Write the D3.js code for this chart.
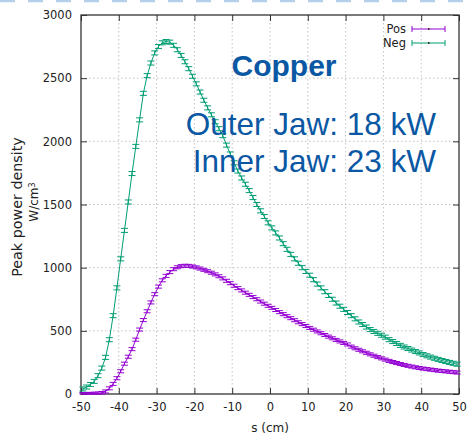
<!DOCTYPE html>
<html>
<head>
<meta charset="utf-8">
<script src="https://cdn.jsdelivr.net/npm/d3@7"></script>
<style>
  body { margin: 0; background: #fff; }
  text { font-family: "DejaVu Sans", sans-serif; fill: #222; }
  .grid line { stroke: #c4c4c4; stroke-dasharray: 1.5,2.5; }
  .axis line { stroke: #333; }
  .axis text { font-size: 11.5px; fill: #222; }
  .note { font-family: "Liberation Sans", Arial, sans-serif; fill: #0a58a4; }
</style>
</head>
<body>
<div class="chart"></div>
<script>
// chart data (bin centres every 1 cm)
var sValues = d3.range(-49.5, 50, 1);

var negValues = [
  40, 55, 75, 100, 145, 205, 290, 430, 620, 840,
  1070, 1295, 1520, 1745, 1960, 2170, 2380, 2520, 2620, 2700,
  2750, 2780, 2790, 2785, 2760, 2725, 2680, 2630, 2575, 2515,
  2455, 2390, 2325, 2265, 2210, 2155, 2100, 2045, 1970, 1900,
  1830, 1765, 1710, 1660, 1610, 1555, 1500, 1450, 1405, 1355,
  1315, 1275, 1235, 1190, 1145, 1105, 1070, 1035, 1000, 970,
  940, 905, 870, 840, 810, 780, 750, 720, 695, 670,
  645, 620, 595, 570, 550, 530, 510, 495, 480, 465,
  450, 430, 415, 400, 385, 372, 360, 348, 336, 325,
  312, 302, 292, 283, 274, 265, 257, 250, 243, 236
];

var posValues = [
  0, 0, 1, 2, 4, 8, 20, 45, 80, 125,
  180, 240, 295, 355, 430, 510, 585, 655, 725, 790,
  850, 900, 935, 965, 988, 1003, 1012, 1015, 1014, 1009,
  1002, 993, 983, 972, 960, 947, 932, 915, 896, 877,
  857, 838, 820, 802, 785, 767, 750, 732, 715, 698,
  682, 665, 648, 632, 616, 600, 584, 568, 553, 538,
  523, 509, 495, 481, 467, 454, 441, 428, 416, 404,
  392, 375, 362, 350, 338, 326, 314, 303, 292, 282,
  272, 262, 253, 245, 237, 230, 223, 217, 211, 206,
  201, 197, 193, 189, 185, 182, 179, 176, 173, 170
];

// error bar half size
var negErr = 16;
var posErr = 12;

var xTicks = [-50, -40, -30, -20, -10, 0, 10, 20, 30, 40, 50];
var yTicks = [0, 500, 1000, 1500, 2000, 2500, 3000];

var seriesNames = ["Pos", "Neg"];
var seriesColors = ["#9400d3", "#009e73"];

var noteLines = ["Outer Jaw: 18 kW", "Inner Jaw: 23 kW"];

// create canvas for chart
var svgWidth = 467;
var svgHeight = 439;

var margin = { top: 15, right: 8, bottom: 45, left: 81 };

var width = svgWidth - margin.left - margin.right;
var height = svgHeight - margin.top - margin.bottom;

var svg = d3
    .select(".chart")
    .append("svg")
    .attr("width", svgWidth)
    .attr("height", svgHeight);

// light blue dashed strip at the very top (slide artefact)
svg.append("line")
    .attr("x1", 0)
    .attr("x2", svgWidth)
    .attr("y1", 1)
    .attr("y2", 1)
    .attr("stroke", "#b4cfea")
    .attr("stroke-width", 2.5)
    .attr("stroke-dasharray", "15,13");

var chart = svg.append("g")
    .attr("transform", "translate(" + margin.left + "," + margin.top + ")");

// scales
var xLinearScale = d3.scaleLinear().domain([-50, 50]).range([0, width]);
var yLinearScale = d3.scaleLinear().domain([0, 3000]).range([height, 0]);

// plain labels: ascii minus, no thousands separator
function plainLabel(d) { return String(d); }

// dotted grid
chart.append("g")
    .attr("class", "grid")
    .selectAll("line.gx")
    .data(xTicks.slice(1, -1))
    .enter()
    .append("line")
    .attr("x1", function(d) { return xLinearScale(d); })
    .attr("x2", function(d) { return xLinearScale(d); })
    .attr("y1", 0)
    .attr("y2", height);

chart.append("g")
    .attr("class", "grid")
    .selectAll("line.gy")
    .data(yTicks.slice(1, -1))
    .enter()
    .append("line")
    .attr("x1", 0)
    .attr("x2", width)
    .attr("y1", function(d) { return yLinearScale(d); })
    .attr("y2", function(d) { return yLinearScale(d); });

// axes, ticks point inward like gnuplot
var bottomAxis = d3.axisBottom(xLinearScale).tickValues(xTicks).tickSize(-6).tickPadding(9).tickFormat(plainLabel);
var leftAxis = d3.axisLeft(yLinearScale).tickValues(yTicks).tickSize(-6).tickPadding(9).tickFormat(plainLabel);
var topAxis = d3.axisTop(xLinearScale).tickValues(xTicks).tickSize(-6).tickFormat("");
var rightAxis = d3.axisRight(yLinearScale).tickValues(yTicks).tickSize(-6).tickFormat("");

chart.append("g")
    .attr("class", "axis")
    .attr("transform", "translate(0," + height + ")")
    .call(bottomAxis);

chart.append("g")
    .attr("class", "axis")
    .call(leftAxis);

chart.append("g")
    .attr("class", "axis")
    .call(topAxis);

chart.append("g")
    .attr("class", "axis")
    .attr("transform", "translate(" + width + ",0)")
    .call(rightAxis);

chart.selectAll(".axis .domain").remove();

// border
chart.append("rect")
    .attr("width", width)
    .attr("height", height)
    .attr("fill", "none")
    .attr("stroke", "#333")
    .attr("stroke-width", 1.3);

// draw one series as line + error bars
function drawSeries(values, err, color) {
    var g = chart.append("g");
    var pts = values.map(function(v, i) { return { s: sValues[i], v: v }; });

    var line = d3.line()
        .x(function(d) { return xLinearScale(d.s); })
        .y(function(d) { return yLinearScale(d.v); });

    g.append("path")
        .datum(pts)
        .attr("d", line)
        .attr("fill", "none")
        .attr("stroke", color)
        .attr("stroke-width", 1);

    var bars = g.selectAll("g.bar")
        .data(pts)
        .enter()
        .append("g")
        .attr("stroke", color)
        .attr("stroke-width", 1);

    bars.append("line")
        .attr("x1", function(d) { return xLinearScale(d.s); })
        .attr("x2", function(d) { return xLinearScale(d.s); })
        .attr("y1", function(d) { return yLinearScale(Math.max(0, d.v - err)); })
        .attr("y2", function(d) { return yLinearScale(d.v + err); });

    bars.append("line")
        .attr("x1", function(d) { return xLinearScale(d.s) - 3.5; })
        .attr("x2", function(d) { return xLinearScale(d.s) + 3.5; })
        .attr("y1", function(d) { return yLinearScale(d.v + err); })
        .attr("y2", function(d) { return yLinearScale(d.v + err); });

    bars.append("line")
        .attr("x1", function(d) { return xLinearScale(d.s) - 3.5; })
        .attr("x2", function(d) { return xLinearScale(d.s) + 3.5; })
        .attr("y1", function(d) { return yLinearScale(Math.max(0, d.v - err)); })
        .attr("y2", function(d) { return yLinearScale(Math.max(0, d.v - err)); });
}

drawSeries(posValues, posErr, seriesColors[0]);
drawSeries(negValues, negErr, seriesColors[1]);

// legend
seriesNames.forEach(function(name, i) {
    var ly = 14 + i * 14;
    var lg = chart.append("g").attr("transform", "translate(0," + ly + ")");
    lg.append("text")
        .attr("x", 325)
        .attr("y", 0)
        .attr("dy", "0.35em")
        .attr("text-anchor", "end")
        .style("font-size", "11.5px")
        .text(name);
    lg.append("line")
        .attr("x1", 331).attr("x2", 364)
        .attr("y1", 0).attr("y2", 0)
        .attr("stroke", seriesColors[i]);
    [331, 364].forEach(function(cx) {
        lg.append("line")
            .attr("x1", cx).attr("x2", cx)
            .attr("y1", -3).attr("y2", 3)
            .attr("stroke", seriesColors[i]);
    });
    lg.append("rect")
        .attr("x", 347).attr("y", -1).attr("width", 1.5).attr("height", 2)
        .attr("fill", "#333");
});

// annotation text
svg.append("text")
    .attr("class", "note")
    .attr("x", 284)
    .attr("y", 76)
    .attr("text-anchor", "middle")
    .style("font-size", "30px")
    .style("font-weight", "bold")
    .text("Copper");

noteLines.forEach(function(t, i) {
    svg.append("text")
        .attr("class", "note")
        .attr("x", 436)
        .attr("y", 135 + i * 37)
        .attr("text-anchor", "end")
        .style("font-size", "31.5px")
        .text(t);
});

// axis titles
svg.append("text")
    .attr("transform", "translate(17," + 207 + ") rotate(-90)")
    .attr("text-anchor", "middle")
    .attr("dy", "0.35em")
    .style("font-size", "14.3px")
    .text("Peak power density");

var unit = svg.append("text")
    .attr("transform", "translate(34," + 202 + ") rotate(-90)")
    .attr("text-anchor", "middle")
    .attr("dy", "0.35em")
    .style("font-size", "12px");
unit.append("tspan").text("W/cm");
unit.append("tspan").attr("dy", "-0.45em").style("font-size", "8px").text("3");

svg.append("text")
    .attr("x", 270)
    .attr("y", 432)
    .attr("text-anchor", "middle")
    .style("font-size", "12px")
    .text("s (cm)");
</script>
</body>
</html>
